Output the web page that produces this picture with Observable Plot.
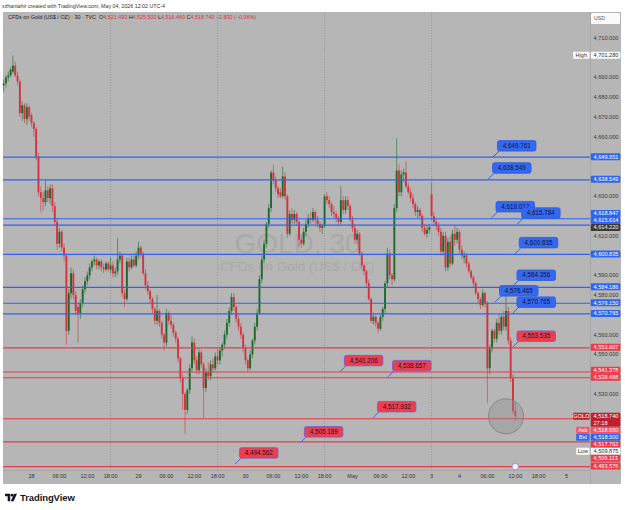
<!DOCTYPE html>
<html><head><meta charset="utf-8">
<script src="https://cdn.jsdelivr.net/npm/d3@7"></script>
<script src="https://cdn.jsdelivr.net/npm/@observablehq/plot@0.6"></script>
<style>
body{margin:0;background:#fff;width:625px;height:510px;position:relative;overflow:hidden;font-family:"Liberation Sans",Arial,sans-serif;}
#credit{position:absolute;left:2px;top:3px;font-size:5.3px;line-height:6px;color:#333;white-space:nowrap;}
#chart{position:absolute;left:3px;top:12px;}
#legend{position:absolute;left:8px;top:14px;font-size:5.4px;line-height:6px;color:#222;white-space:nowrap;}
#legend .v{color:#d8323f;}
#logo{position:absolute;left:5px;top:492px;display:flex;align-items:center;gap:3px;}
#logo span{font-size:9.5px;font-weight:bold;color:#131722;letter-spacing:-0.1px;}
</style></head><body>
<div id="credit"></div>
<div id="chart"></div>
<div id="legend"></div>
<div id="logo"><svg width="12" height="9" viewBox="0 0 12 9"><path d="M0 0.8h5.2v7.4H2.7V3.2H0z" fill="#131722"/><circle cx="7" cy="2.2" r="1.4" fill="#131722"/><path d="M9 0.8h3L8.6 8.2H5.7z" fill="#131722"/></svg><span>TradingView</span></div>
<script>
// ---------- data ----------
const creditText = "xzhantahir created with TradingView.com, May 04, 2026 12:02 UTC-4";
const symbolTitle = "CFDs on Gold (US$ / OZ) · 30 · TVC";
const watermarkTitle = "GOLD, 30";
const watermarkSub = "CFDs on Gold (US$ / OZ)";
const changeText = "−2.830 (−0.06%)";
const firstBar = -12; // bars are 30-minute sessions indexed from Apr 28 00:00

const opens = [
4686,4687,4690,4691,4693,4696,4691,4688,4672,4676,
4669,4675,4671,4667,4664,4650,4632,4629,4627,4633,
4629,4634,4625,4617,4606,4612,4604,4600,4562,4581,
4591,4580,4574,4571,4576,4583,4587,4590,4594,4597,
4598,4595,4597,4594,4593,4596,4593,4595,4591,4592,
4598,4600,4581,4578,4597,4594,4598,4595,4600,4604,
4601,4591,4585,4582,4578,4573,4567,4572,4566,4560,
4556,4571,4567,4565,4561,4558,4548,4538,4530,4522,
4532,4543,4556,4547,4542,4551,4545,4533,4541,4539,
4545,4543,4549,4547,4552,4555,4560,4566,4572,4579,
4574,4568,4564,4560,4553,4547,4543,4550,4557,4564,
4571,4588,4598,4606,4616,4624,4642,4638,4634,4632,
4630,4640,4630,4611,4621,4618,4621,4617,4608,4606,
4612,4616,4619,4618,4622,4618,4616,4614,4615,4630,
4628,4626,4622,4621,4619,4617,4628,4623,4628,4625,
4618,4614,4608,4611,4601,4595,4592,4586,4578,4567,
4569,4566,4563,4569,4573,4586,4601,4590,4588,4624,
4643,4632,4641,4642,4635,4632,4629,4626,4622,4623,
4620,4614,4611,4613,4631,4620,4617,4615,4612,4602,
4610,4594,4607,4596,4611,4608,4612,4603,4599,4600,
4596,4592,4589,4586,4581,4578,4575,4581,4576,4543,
4553,4562,4558,4566,4562,4569,4564,4572,4557,4538,
4521.493];
const highs = [
4689,4691,4693,4695,4701.28,4698,4693,4689,4678,4677,
4677,4676,4672,4668,4665,4652,4635,4632,4638,4635,
4636,4636,4627,4619,4614,4613,4606,4601,4583,4594,
4593,4582,4576,4578,4585,4589,4592,4596,4598,4600,
4599,4598,4598,4596,4597,4597,4599,4597,4594,4609,
4602,4601,4583,4599,4599,4600,4600,4602,4607,4605,
4602,4593,4587,4583,4579,4574,4580,4573,4567,4561,
4573,4572,4570,4566,4562,4559,4549,4540,4531,4533,
4545,4559,4558,4549,4553,4552,4546,4543,4546,4547,
4548,4551,4553,4554,4556,4562,4568,4574,4581,4581,
4575,4570,4566,4561,4555,4548,4552,4558,4566,4573,
4590,4600,4608,4617,4626,4643,4646,4640,4635,4634,
4645,4642,4631,4623,4624,4623,4622,4618,4610,4614,
4618,4621,4622,4624,4623,4620,4617,4616,4631,4632,
4630,4627,4625,4622,4620,4635,4630,4630,4630,4626,
4620,4616,4613,4612,4602,4596,4593,4588,4579,4571,
4570,4567,4570,4574,4587,4604,4603,4591,4626,4659.3,
4646,4643,4644,4647.5,4637,4634,4631,4627,4625,4624,
4621,4616,4615,4616,4637,4622,4619,4617,4614,4612,
4612,4609,4610,4613,4615.4,4614,4613,4605,4602,4601,
4597,4593,4590,4587,4582,4579,4583,4582,4577,4555,
4563,4563,4568,4570,4570,4572,4582.6,4574,4559,4540,
4525.5];
const lows = [
4683,4685,4688,4690,4692,4690,4686,4670,4668,4667,
4666,4668,4665,4660,4648,4630,4622,4623,4625,4627,
4626,4622,4615,4603,4604,4602,4597,4555,4560,4578,
4578,4570,4556,4568,4574,4581,4585,4588,4592,4595,
4593,4593,4592,4591,4592,4592,4591,4589,4589,4590,
4596,4579,4574,4577,4592,4593,4594,4594,4598,4599,
4590,4583,4580,4576,4571,4565,4565,4564,4558,4552,
4554,4565,4563,4559,4556,4546,4536,4522,4509.875,4520,
4530,4541,4545,4540,4540,4543,4517.8,4531,4537,4537,
4541,4542,4545,4545,4549,4553,4558,4564,4570,4572,
4566,4562,4558,4551,4545,4541.3,4542,4548,4555,4562,
4570,4586,4596,4604,4614,4622,4636,4632,4629,4629,
4629,4628,4609,4610,4616,4616,4615,4604.5,4604,4605,
4610,4614,4616,4617,4616,4614,4612,4611,4614,4626,
4624,4620,4619,4617,4615,4616,4621,4621,4623,4617,
4612,4606,4606,4600,4593,4590,4584,4577,4566,4565,
4564,4561,4562,4567,4571,4584,4588,4585,4587,4622,
4630,4630,4637,4634,4631,4627,4624,4620,4619,4618,
4612,4610,4609,4611,4618,4615,4613,4610,4600,4600,
4592,4592,4594,4595,4605,4606,4601,4598,4596,4594,
4591,4588,4584,4580,4576,4573,4574,4574,4525.4,4540,
4551,4556,4556,4560,4560,4562,4562,4555,4536,4520,
4516.46];
const closes = [
4687,4690,4691,4694,4696,4691,4688,4672,4676,4669,
4675,4670,4667,4664,4650,4632,4629,4627,4633,4629,
4634,4625,4617,4606,4612,4604,4600,4562,4581,4591,
4580,4572,4571,4576,4583,4587,4590,4594,4597,4598,
4595,4597,4594,4593,4596,4593,4595,4591,4592,4598,
4600,4581,4578,4597,4594,4598,4595,4600,4604,4601,
4591,4585,4582,4578,4573,4567,4572,4566,4560,4556,
4571,4567,4565,4561,4558,4548,4538,4530,4522,4532,
4543,4556,4547,4542,4551,4545,4533,4541,4539,4545,
4543,4549,4547,4552,4555,4560,4566,4572,4579,4574,
4568,4564,4560,4553,4547,4543,4550,4557,4564,4571,
4588,4598,4606,4616,4624,4642,4638,4634,4631,4630,
4640,4630,4611,4621,4618,4621,4617,4608,4606,4612,
4616,4619,4618,4622,4618,4616,4614,4615,4630,4628,
4626,4622,4621,4619,4617,4628,4623,4628,4625,4618,
4614,4608,4611,4601,4595,4592,4586,4578,4567,4569,
4566,4563,4569,4573,4586,4601,4590,4588,4624,4643,
4632,4641,4642,4635,4632,4629,4626,4622,4623,4620,
4614,4611,4613,4614.22,4620,4617,4615,4612,4602,4610,
4594,4607,4596,4611,4608,4612,4603,4600,4600,4596,
4592,4589,4586,4581,4578,4575,4581,4576,4543,4553,
4562,4558,4566,4562,4569,4564,4572,4557,4538,4521.5,
4518.74];

const sessionBreaks = [34, 80, 126, 172];
const timeTickBars = [0,12,24,34,46,58,70,80,92,104,116,126,138,150,162,172,184,196,208,218,230];
const timeTickLabels = ["28","06:00","12:00","18:00","29","06:00","12:00","18:00","30","06:00","12:00","18:00","May","06:00","12:00","3","4","06:00","12:00","18:00","5"];

const blueLines = [4649.951, 4638.549, 4618.847, 4615.614, 4600.835, 4584.186, 4576.150, 4570.765];
const redLines = [4553.607, 4541.378, 4538.488, 4517.762, 4506.113, 4493.576];

const calloutValues = [4649.761, 4638.549, 4619.012, 4615.784, 4600.835, 4584.356, 4576.465, 4570.765, 4553.535, 4541.206, 4538.657, 4517.932, 4505.189, 4494.562];
const calloutBars = [198.6, 196.5, 198, 209, 208, 207, 199.5, 207, 207, 132.8, 153.5, 147, 115.6, 87.7];
const calloutKinds = ["blue","blue","blue","blue","blue","blue","blue","blue","red","red","red","red","red","red"];

const axisLabelValues = [4701.280, 4649.951, 4638.549, 4618.847, 4615.614, 4614.220, 4600.835, 4584.186, 4576.150, 4570.765, 4553.607, 4541.378, 4538.488, 4518.740, 4518.650, 4518.500, 4517.762, 4509.875, 4506.113, 4493.576];
const axisLabelKinds = ["high","blue","blue","blue","blue","dark","blue","blue","blue","blue","red","red","red","last","ask","bid","red","low","red","red"];
const axisTags = {high: "High", last: "GOLD", ask: "Ask", bid: "Bid", low: "Low"};
const countdownText = "27:18";
const tickValues = [4500,4510,4520,4530,4540,4550,4560,4570,4580,4590,4600,4610,4620,4630,4640,4650,4660,4670,4680,4690,4700,4710,4720];

const highlightBar = 204, highlightPrice = 4519;
const eventBar = 208, eventPrice = 4493.576;

// ---------- styles ----------
const FONT = '"Liberation Sans", Arial, sans-serif';
const BG = "#b6b6b6", UP = "#1d6b2c", DOWN = "#d4333f", BLUE = "#2f64ee", RED = "#e53d49";
const fmt = d3.format(",.3f");

// ---------- page texts ----------
document.getElementById("credit").textContent = creditText;
const last = opens.length - 1;
const leg = document.getElementById("legend");
leg.innerHTML = `${symbolTitle}&nbsp; O<span class="v">${fmt(opens[last])}</span> H<span class="v">${fmt(highs[last])}</span> L<span class="v">${fmt(lows[last])}</span> C<span class="v">${fmt(closes[last])}</span> <span class="v">${changeText}</span>`;

// ---------- chart ----------
const candles = opens.map((o, k) => ({i: firstBar + k, o, h: highs[k], l: lows[k], c: closes[k]}));
const upBars = candles.filter(d => d.c >= d.o);
const downBars = candles.filter(d => d.c < d.o);
const timeTicks = timeTickBars.map((i, k) => ({i, label: timeTickLabels[k]}));

function calloutMark(index, scales) {
  const x = scales.x, y = scales.y;
  const g = d3.create("svg:g").attr("font-family", FONT);
  calloutValues.forEach((v, k) => {
    const ax = x(calloutBars[k]), ay = y(v);
    const blue = calloutKinds[k] === "blue";
    const bw = 38.5, bh = 10.5, bx = ax + 4.5, by = ay - 6 - bh;
    g.append("line").attr("x1", ax).attr("y1", ay).attr("x2", bx + 1.5).attr("y2", by + bh)
      .attr("stroke", blue ? BLUE : "#5a5fd6").attr("stroke-width", 1);
    g.append("rect").attr("x", bx).attr("y", by).attr("width", bw).attr("height", bh).attr("rx", 2)
      .attr("fill", blue ? "#3468f2" : "#ef3d4c").attr("stroke", blue ? "#2a5ae0" : "#6a5fd8").attr("stroke-width", 0.8);
    g.append("text").attr("x", bx + bw / 2).attr("y", by + bh / 2).attr("dy", "0.35em")
      .attr("text-anchor", "middle").attr("font-size", 6.3).attr("fill", "#121631").text(fmt(v));
  });
  return g.node();
}

function axisMark(index, scales, values, dims) {
  const y = scales.y;
  const x0 = dims.width - dims.marginRight;
  const bottom = dims.height - dims.marginBottom;
  const g = d3.create("svg:g").attr("font-family", FONT).attr("font-size", 5.6).attr("text-anchor", "start");
  const LH = 7;
  const items = axisLabelValues.map((v, k) => ({v, kind: axisLabelKinds[k], ty: y(v), h: axisLabelKinds[k] === "last" ? 14 : LH}));
  const cur = items.find(d => d.kind === "last");
  cur.top = cur.ty - LH / 2;
  let limit = cur.top;
  items.filter(d => d.v > cur.v).sort((a, b) => a.v - b.v).forEach(d => {
    d.top = Math.min(d.ty - LH / 2, limit - LH); limit = d.top;
  });
  limit = cur.top + cur.h;
  items.filter(d => d !== cur && d.v <= cur.v).sort((a, b) => b.v - a.v).forEach(d => {
    d.top = Math.max(d.ty - LH / 2, limit); limit = d.top + LH;
  });
  g.append("line").attr("x1", x0 + 0.5).attr("x2", x0 + 0.5).attr("y1", 0).attr("y2", dims.height).attr("stroke", "#a4a4a4").attr("stroke-width", 0.8);
  g.append("line").attr("x1", 0).attr("x2", x0).attr("y1", bottom + 0.5).attr("y2", bottom + 0.5).attr("stroke", "#a4a4a4").attr("stroke-width", 0.8);
  tickValues.forEach(v => {
    const ty = y(v);
    if (ty < 15 || ty > bottom - 2) return;
    if (items.some(d => Math.abs(d.top + LH / 2 - ty) < 6.6)) return;
    g.append("text").attr("x", x0 + 3.5).attr("y", ty).attr("dy", "0.35em").attr("fill", "#3a3a3a").text(fmt(v));
  });
  g.append("rect").attr("x", x0 + 1).attr("y", 1).attr("width", 29).attr("height", 11).attr("rx", 1.5).attr("fill", "#fafafa");
  g.append("text").attr("x", x0 + 4).attr("y", 6.5).attr("dy", "0.35em").attr("font-size", 5.2).attr("fill", "#555").text("USD");
  const colors = {
    blue: ["#2f66f0", "#fff"], red: ["#ee3a49", "#fff"], dark: ["#3a3a3a", "#f0f0f0"],
    high: ["#fafafa", "#333"], low: ["#fafafa", "#333"], last: ["#be1e2d", "#fff"],
    ask: ["#f2556a", "#fff"], bid: ["#2f66f0", "#fff"]
  };
  items.forEach(d => {
    const [bg, fg] = colors[d.kind];
    g.append("rect").attr("x", x0 + 0.8).attr("y", d.top).attr("width", 29.5).attr("height", d.h).attr("rx", 1).attr("fill", bg);
    g.append("text").attr("x", x0 + 3.5).attr("y", d.top + LH / 2).attr("dy", "0.35em").attr("fill", fg).text(fmt(d.v));
    if (d.kind === "last") {
      g.append("text").attr("x", x0 + 3.5).attr("y", d.top + LH * 1.5).attr("dy", "0.35em").attr("fill", fg).text(countdownText);
    }
    const tag = axisTags[d.kind];
    if (tag) {
      const tw = tag.length * 3.1 + 4;
      g.append("rect").attr("x", x0 - tw - 0.5).attr("y", d.top).attr("width", tw).attr("height", LH).attr("rx", 1).attr("fill", bg);
      g.append("text").attr("x", x0 - tw / 2 - 0.5).attr("y", d.top + LH / 2).attr("dy", "0.35em").attr("text-anchor", "middle").attr("fill", fg).text(tag);
    }
  });
  return g.node();
}

const chart = Plot.plot({
  width: 618, height: 472,
  marginLeft: 0, marginRight: 31, marginTop: 0, marginBottom: 14,
  x: {domain: [-12.04, 240.33], axis: null},
  y: {domain: [4491.6, 4723.1], axis: null},
  style: {background: BG, fontFamily: FONT, overflow: "visible"},
  marks: [
    Plot.text([watermarkTitle], {text: d => d, frameAnchor: "top-left", dx: 294, dy: 221, fontSize: 28, fill: "#a9a9a9", textAnchor: "middle"}),
    Plot.text([watermarkSub], {text: d => d, frameAnchor: "top-left", dx: 293.5, dy: 249, fontSize: 13.5, fill: "#a9a9a9", textAnchor: "middle"}),
    Plot.ruleX(sessionBreaks, {x: d => d, stroke: "#8a8a8a", strokeWidth: 0.8, strokeDasharray: "1,1.6"}),
    Plot.ruleX(upBars, {x: "i", y1: "l", y2: "h", stroke: UP, strokeWidth: 0.8, strokeOpacity: 0.75}),
    Plot.ruleX(downBars, {x: "i", y1: "l", y2: "h", stroke: DOWN, strokeWidth: 0.8, strokeOpacity: 0.75}),
    Plot.ruleX(upBars, {x: "i", y1: "o", y2: "c", stroke: UP, strokeWidth: 1.9}),
    Plot.ruleX(downBars, {x: "i", y1: "o", y2: "c", stroke: DOWN, strokeWidth: 1.9}),
    Plot.ruleY(blueLines, {y: d => d, stroke: BLUE, strokeWidth: 1.2}),
    Plot.ruleY(redLines, {y: d => d, stroke: RED, strokeWidth: 1.2}),
    Plot.dot([{i: highlightBar, p: highlightPrice}], {x: "i", y: "p", r: 17.5, fill: "#8e8e8e", fillOpacity: 0.4, stroke: "#7c7c7c", strokeWidth: 0.8}),
    Plot.dot([{i: eventBar, p: eventPrice}], {x: "i", y: "p", r: 3.2, fill: "#f4f4f4", stroke: "#9a7fd0", strokeWidth: 0.8}),
    calloutMark,
    Plot.text(timeTicks, {x: "i", text: "label", frameAnchor: "bottom", dy: 7, fontSize: 5.5, fill: "#333"}),
    axisMark
  ]
});
document.getElementById("chart").appendChild(chart);
</script>
</body></html>
